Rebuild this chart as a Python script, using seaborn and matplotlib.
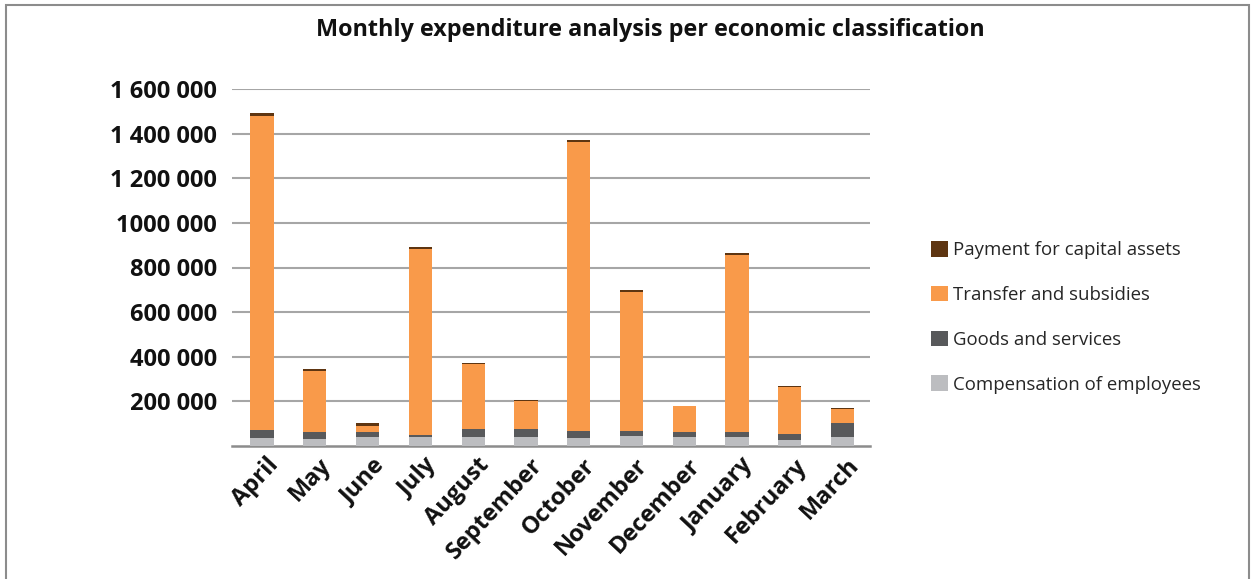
import matplotlib
matplotlib.use("Agg")
import matplotlib.pyplot as plt
import matplotlib.patches as mpatches
import matplotlib.transforms as mtransforms
import seaborn as sns
import numpy as np
import pandas as pd

months = ["April", "May", "June", "July", "August", "September", "October",
          "November", "December", "January", "February", "March"]
compensation = [38000, 30000, 39000, 39000, 39000, 39000, 34000, 43000, 39000, 39000, 26000, 39000]
goods_services = [35000, 31000, 22000, 9000, 35000, 35000, 35000, 22000, 22000, 22000, 26000, 62000]
transfers = [1406000, 275000, 30000, 836000, 294000, 126000, 1294000, 625000, 117000, 796000, 214000, 66000]
capital_assets = [12000, 7000, 10000, 8000, 4000, 5000, 9000, 9000, 3000, 8000, 4000, 4000]

series_names = ["Compensation of employees", "Goods and services",
                "Transfer and subsidies", "Payment for capital assets"]
series_colors = ["#bcbdc0", "#58595b", "#f99a4a", "#5e3511"]
ytick_values = [200000, 400000, 600000, 800000, 1000000, 1200000, 1400000, 1600000]
ytick_labels = ["200 000", "400 000", "600 000", "800 000", "1000 000",
                "1 200 000", "1 400 000", "1 600 000"]
title = "Monthly expenditure analysis per economic classification"

sns.set_theme(style="white")
plt.rcParams["font.family"] = ["Open Sans", "DejaVu Sans"]

fig = plt.figure(figsize=(12.56, 5.79), dpi=100)
ax = fig.add_axes([232 / 1256, 1 - 446 / 579, (870 - 232) / 1256, (446 - 89) / 579])

layers = [compensation, goods_services, transfers, capital_assets]
cum = np.cumsum(np.array(layers, dtype=float), axis=0)

# draw from the top layer (full stack) down
for i in range(len(layers) - 1, -1, -1):
    df = pd.DataFrame({"month": months, "value": cum[i]})
    sns.barplot(data=df, x="month", y="value", order=months, color=series_colors[i],
                width=0.44, saturation=1, ax=ax, zorder=3, errorbar=None,
                linewidth=0, edgecolor="none")

ax.set_ylim(0, 1600000)
ax.set_xlim(-0.57, len(months) - 1 + 0.52)
ax.set_yticks(ytick_values)
ax.set_yticklabels(ytick_labels, fontsize=17, fontweight="bold", color="#111111")
ax.yaxis.grid(True, color="#a6a6a6", linewidth=1.5, zorder=0)
ax.xaxis.grid(False)
ax.set_axisbelow(True)
for s in ["left", "right", "top"]:
    ax.spines[s].set_visible(False)
ax.spines["bottom"].set_color("#8c8c8c")
ax.spines["bottom"].set_linewidth(1.8)
ax.tick_params(axis="y", length=0, pad=11)
ax.tick_params(axis="x", length=0, pad=4)
ax.set_xticks(range(len(months)))
ax.set_xticklabels(months, rotation=47, ha="right", rotation_mode="anchor",
                   fontsize=17, fontweight="bold", color="#111111")
offset = mtransforms.ScaledTranslation(4 / 100, -2 / 100, fig.dpi_scale_trans)
for lbl in ax.get_xticklabels():
    lbl.set_transform(lbl.get_transform() + offset)
ax.set_xlabel("")
ax.set_ylabel("")

fig.text(0.518, 0.948, title, ha="center", va="center", fontsize=16.8,
         fontweight="bold", color="#111111")

handles = [mpatches.Patch(facecolor=series_colors[i], edgecolor="none", label=series_names[i])
           for i in range(len(series_names) - 1, -1, -1)]
fig.legend(handles=handles, loc="center left", bbox_to_anchor=(0.728, 0.452),
           frameon=False, fontsize=13.4, handlelength=0.9, handleheight=0.9,
           handletextpad=0.3, labelspacing=1.43)

border = mpatches.Rectangle((6 / 1256, -0.05), (1249 - 6) / 1256, 1.05 - 5 / 579,
                            transform=fig.transFigure, fill=False,
                            edgecolor="#8c8c8c", linewidth=1.5)
fig.patches.append(border)

fig.savefig("out.png", dpi=100)
